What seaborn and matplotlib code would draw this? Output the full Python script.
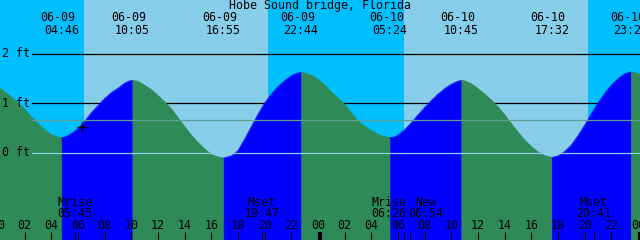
import numpy as np
import pandas as pd
import matplotlib
matplotlib.use("Agg")
import matplotlib.pyplot as plt
import seaborn as sns

# ---------------- data ----------------
title = "Hobe Sound bridge, Florida"

hours = [0, 0.5, 1, 1.5, 2, 2.5, 3, 3.5, 4, 4.4, 4.77,
         5, 5.5, 6, 6.5, 7, 7.5, 8, 8.5, 9, 9.5, 9.8, 10.08,
         10.5, 11, 11.5, 12, 12.5, 13, 13.5, 14, 14.5, 15, 15.5, 16, 16.5, 16.92,
         17.5, 18, 18.5, 19, 19.5, 20, 20.5, 21, 21.5, 22, 22.4, 22.73,
         23, 23.5, 24, 24.5, 25, 25.5, 26, 26.5, 27, 27.5, 28, 28.5, 29, 29.4,
         29.8, 30, 30.5, 31, 31.5, 32, 32.5, 33, 33.5, 34, 34.4, 34.75,
         35, 35.5, 36, 36.5, 37, 37.5, 38, 38.5, 39, 39.5, 40, 40.5, 41, 41.53,
         42, 42.5, 43, 43.5, 44, 44.5, 45, 45.5, 46, 46.5, 47, 47.47, 48, 48.3]
level_ft = [1.33, 1.23, 1.12, 1.00, 0.87, 0.72, 0.58, 0.46, 0.36, 0.32, 0.30,
            0.31, 0.38, 0.48, 0.63, 0.80, 0.95, 1.09, 1.21, 1.30, 1.40, 1.44, 1.46,
            1.44, 1.36, 1.27, 1.15, 1.02, 0.88, 0.70, 0.52, 0.35, 0.20, 0.07, -0.04, -0.09, -0.11,
            -0.07, 0.04, 0.27, 0.52, 0.77, 1.00, 1.18, 1.33, 1.45, 1.55, 1.60, 1.62,
            1.61, 1.56, 1.48, 1.36, 1.22, 1.10, 0.97, 0.80, 0.63, 0.53, 0.44, 0.37, 0.32, 0.30,
            0.32, 0.35, 0.46, 0.60, 0.76, 0.91, 1.05, 1.18, 1.29, 1.38, 1.43, 1.46,
            1.45, 1.39, 1.29, 1.18, 1.06, 0.92, 0.76, 0.58, 0.41, 0.25, 0.12, 0.01, -0.06, -0.10,
            -0.07, 0.02, 0.15, 0.34, 0.55, 0.78, 1.00, 1.19, 1.36, 1.49, 1.59, 1.63, 1.60, 1.57]

extreme_hours = [4.77, 10.08, 16.92, 22.73, 29.4, 34.75, 41.53, 47.47]
extreme_dates = ["06-09", "06-09", "06-09", "06-09", "06-10", "06-10", "06-10", "06-10"]
extreme_times = ["04:46", "10:05", "16:55", "22:44", "05:24", "10:45", "17:32", "23:28"]

daylight_start = [6.45, 30.45]
daylight_end = [20.25, 44.25]

moon_names = ["Mrise", "Mset", "Mrise", "New", "Mset"]
moon_times = ["05:45", "19:47", "06:26", "06:54", "20:41"]
moon_hours = [5.75, 19.78, 30.43, 30.9, 44.68]

grid_ft = [2, 1]
grid_labels = ["2 ft", "1 ft", "0 ft"]
label_ft = [2, 1, 0]
zero_ft = 0
mean_ft = 0.65
now_hour = [6.28]
now_level = [0.52]

hour_ticks = list(range(0, 50, 2))
hour_labels = ["%02d" % (h % 24) for h in hour_ticks]
midnights = [24, 48]

# ---------------- style / layout ----------------
NIGHT = "#00BFFF"
DAY = "#87CEEB"
FALL = "#2E8B57"
RISE = "#0000FF"
MEANC = "#5F9F93"
ZEROC = "#8ECFE6"
W, H = 640, 240
X0, X1 = 0.15, 48.15
PXH = W / (X1 - X0)
ZERO_PX, PXF = 152.6, 49.5
Y1 = ZERO_PX / PXF
Y0 = -(H - ZERO_PX) / PXF
FS = 8.4
moon_label_shift_px = [0, 0, -15, 16, 0]

sns.set_theme(style="white")
plt.rcParams["font.family"] = ["DejaVu Sans Mono", "DejaVu Sans"]

fig = plt.figure(figsize=(W / 100, H / 100), dpi=100)
ax = fig.add_axes([0, 0, 1, 1])

def ax_y(py):
    return 1 - py / H

# sky
ax.axvspan(X0 - 1, X1 + 1, color=NIGHT, zorder=0, lw=0)
for s, e in zip(daylight_start, daylight_end):
    ax.axvspan(s, e, color=DAY, zorder=0.5, lw=0)

# black gridlines (behind water)
for g in grid_ft:
    ax.axhline(g, xmin=32 / W, xmax=1, color="black", lw=0.9, zorder=1)

# water
df = pd.DataFrame({"hour": hours, "level": level_ft})
bounds = [hours[0]] + extreme_hours + [hours[-1]]
lev_at = dict(zip(hours, level_ft))
for a, b in zip(bounds[:-1], bounds[1:]):
    seg = df[(df.hour >= a - 1e-9) & (df.hour <= b + 1e-9)]
    col = RISE if lev_at[b] > lev_at[a] else FALL
    ax.fill_between(seg.hour, seg.level, Y0 - 1, color=col, lw=0.4, edgecolor=col, zorder=2)
    sns.lineplot(data=seg, x="hour", y="level", color=col, lw=0.6, ax=ax, zorder=2.1,
                 estimator=None, sort=False)
ax.set_xlim(X0, X1)
ax.set_ylim(Y0, Y1)
ax.axis("off")

# mean and datum lines over water
ax.axhline(mean_ft, xmin=32 / W, xmax=1, color=MEANC, lw=0.9, zorder=3)
ax.axhline(zero_ft, xmin=32 / W, xmax=1, color=ZEROC, lw=0.9, zorder=3)

# current time marker
ax.plot(now_hour, now_level, marker="+", color="black", ms=7.5, mew=1.0, ls="none", zorder=4)

# y labels
for f, lab in zip(label_ft, grid_labels):
    ax.text(2 / W, f, lab, transform=ax.get_yaxis_transform(), ha="left", va="center",
            fontsize=FS, color="black", zorder=5)

xt = ax.get_xaxis_transform()
# title
ax.text(0.5, ax_y(5.5), title, transform=ax.transAxes, ha="center", va="center",
        fontsize=FS, color="black", zorder=5)
# tide extremes
for h, d, t in zip(extreme_hours, extreme_dates, extreme_times):
    ax.text(h - 3.5 / PXH, ax_y(17.5), d, transform=xt, ha="center", va="center",
            fontsize=FS, color="black", zorder=5)
    ax.text(h, ax_y(30), t, transform=xt, ha="center", va="center",
            fontsize=FS, color="black", zorder=5)
# moon events
for h, n, t, sh in zip(moon_hours, moon_names, moon_times, moon_label_shift_px):
    ax.text(h + sh / PXH, ax_y(202), n, transform=xt, ha="center", va="center",
            fontsize=FS, color="black", zorder=5)
    ax.text(h + sh / PXH, ax_y(213.5), t, transform=xt, ha="center", va="center",
            fontsize=FS, color="black", zorder=5)
    ax.vlines(h, 0, 8.5 / H, transform=xt, color="black", lw=0.8, zorder=5)
# hour ticks
for h, lab in zip(hour_ticks, hour_labels):
    ax.text(h, ax_y(225.5), lab, transform=xt, ha="center", va="center",
            fontsize=FS, color="black", zorder=5)
    ax.vlines(h, 0, 8.5 / H, transform=xt, color="black", lw=0.8, zorder=5)
for m in midnights:
    ax.axvspan(m, m + 4 / PXH, ymin=0, ymax=8.5 / H, color="black", lw=0, zorder=5)

fig.savefig("out.png", dpi=100)
